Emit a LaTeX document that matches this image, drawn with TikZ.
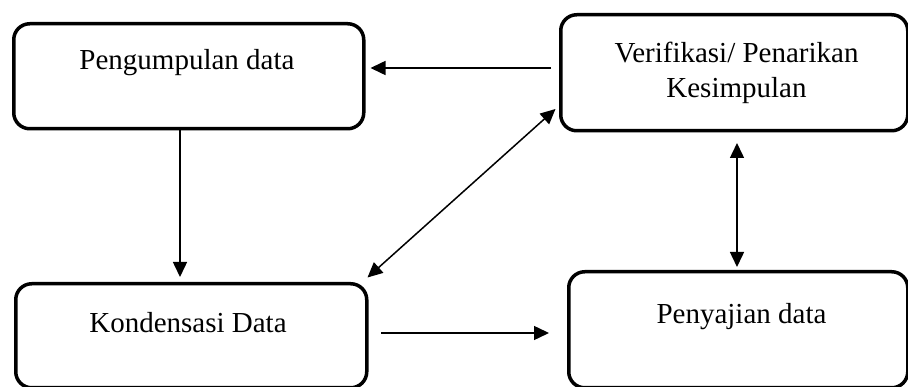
\documentclass[tikz,border=0pt]{standalone}
\usepackage{fontspec}
\setmainfont{Liberation Serif}
\usetikzlibrary{arrows.meta}
\begin{document}
\begin{tikzpicture}[x=1pt,y=-1pt,
  box/.style={draw, line width=3.5pt, rounded corners=16pt, inner sep=0pt, anchor=north west},
  lbl/.style={font=\fontsize{29}{35}\selectfont, align=center, inner sep=0pt},
  arr/.style={line width=1.5pt, -{Triangle[length=15pt,width=14pt]}},
  dbl/.style={line width=1.5pt, {Triangle[length=15pt,width=14pt]}-{Triangle[length=15pt,width=14pt]}}]
\useasboundingbox (0,0) rectangle (908,387);
% boxes
\node[box, minimum width=350pt, minimum height=105pt] (b1) at (12,22) {};
\node[box, minimum width=347pt, minimum height=116pt] (b2) at (559,13) {};
\node[box, minimum width=351pt, minimum height=104pt] (b3) at (14,282) {};
\node[box, minimum width=339pt, minimum height=116pt] (b4) at (567,270) {};
% labels
\node[lbl, anchor=base] (t1) at (187,70) {Pengumpulan data};
\node[lbl, anchor=base] (t2) at (736.5,98) {Verifikasi/ Penarikan\\Kesimpulan};
\node[lbl, anchor=base] (t3) at (188,333) {Kondensasi Data};
\node[lbl, anchor=base] (t4) at (741.5,324) {Penyajian data};
% connector ends
\coordinate (c1s) at ([xshift=-8pt]b2.west |- 0,68);
\coordinate (c1e) at ([xshift=5pt]b1.east |- 0,68);
\coordinate (c2s) at (180,128);
\coordinate (c2e) at (180,277);
\coordinate (c3a) at (555.5,109);
\coordinate (c3b) at (367.5,277.5);
\coordinate (c4a) at (737,143);
\coordinate (c4b) at (737,267);
\coordinate (c5s) at (381,333);
\coordinate (c5e) at (549,333);
% connectors
\draw[arr] (c1s) -- (c1e);
\draw[arr] (b1.south -| c2s) -- (c2e);
\draw[dbl] (c3b) -- (c3a);
\draw[dbl] (c4a) -- (c4b);
\draw[arr] (c5s) -- (c5e);
\end{tikzpicture}
\end{document}
